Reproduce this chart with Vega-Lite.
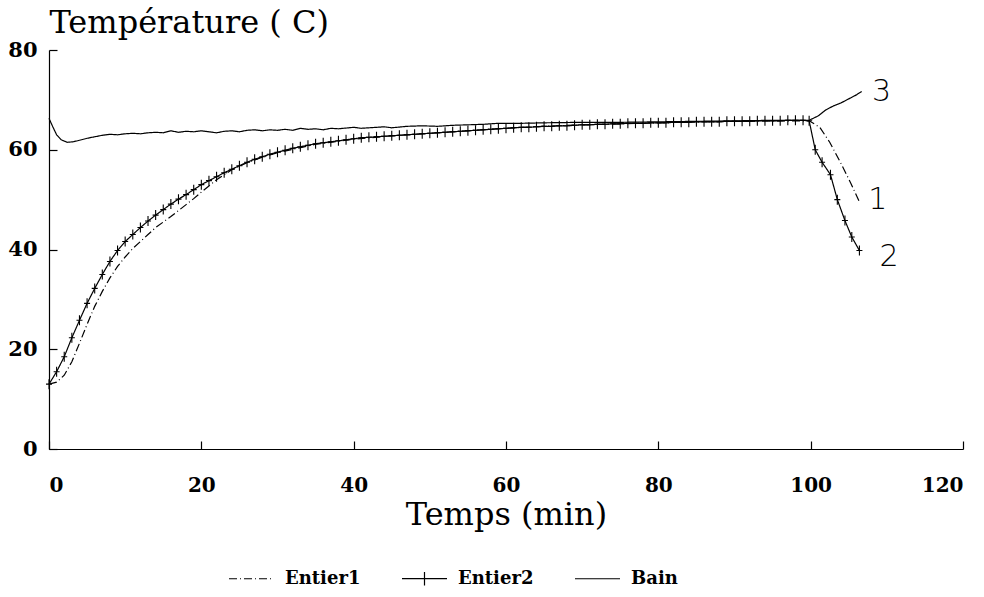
{
  "$schema": "https://vega.github.io/schema/vega-lite/v6.json",
  "autosize": "none",
  "padding": {"left": 49, "top": 50, "right": 21, "bottom": 148},
  "width": 914,
  "height": 399,
  "background": "white",
  "config": {
    "view": {"stroke": null},
    "axis": {"grid": false, "domainColor": "black", "tickColor": "black", "labelColor": "black", "titleColor": "black", "domainWidth": 1.2, "tickWidth": 1.2},
    "legend": {"symbolStrokeColor": "black", "symbolStrokeWidth": 1.2}
  },
  "datasets": {
    "curves": [
      {"series": "Bain", "t": 0, "temp": 66.3}, {"series": "Bain", "t": 0.5, "temp": 64.6}, {"series": "Bain", "t": 1, "temp": 63}, {"series": "Bain", "t": 1.6, "temp": 62}, {"series": "Bain", "t": 2.4, "temp": 61.5}, {"series": "Bain", "t": 3.2, "temp": 61.6}, {"series": "Bain", "t": 4, "temp": 61.9}, {"series": "Bain", "t": 5, "temp": 62.3}, {"series": "Bain", "t": 6, "temp": 62.6}, {"series": "Bain", "t": 7, "temp": 62.9}, {"series": "Bain", "t": 8, "temp": 63.1}, {"series": "Bain", "t": 9, "temp": 63}, {"series": "Bain", "t": 10, "temp": 63.2}, {"series": "Bain", "t": 11, "temp": 63.3}, {"series": "Bain", "t": 12, "temp": 63.2}, {"series": "Bain", "t": 13, "temp": 63.4}, {"series": "Bain", "t": 14, "temp": 63.5}, {"series": "Bain", "t": 15, "temp": 63.4}, {"series": "Bain", "t": 16, "temp": 63.8}, {"series": "Bain", "t": 17, "temp": 63.5}, {"series": "Bain", "t": 18, "temp": 63.7}, {"series": "Bain", "t": 19, "temp": 63.6}, {"series": "Bain", "t": 20, "temp": 63.8}, {"series": "Bain", "t": 21, "temp": 63.6}, {"series": "Bain", "t": 22, "temp": 63.4}, {"series": "Bain", "t": 23, "temp": 63.7}, {"series": "Bain", "t": 24, "temp": 63.8}, {"series": "Bain", "t": 25, "temp": 63.6}, {"series": "Bain", "t": 26, "temp": 63.9}, {"series": "Bain", "t": 27, "temp": 64}, {"series": "Bain", "t": 28, "temp": 63.8}, {"series": "Bain", "t": 29, "temp": 64}, {"series": "Bain", "t": 30, "temp": 63.9}, {"series": "Bain", "t": 31, "temp": 64.1}, {"series": "Bain", "t": 32, "temp": 63.9}, {"series": "Bain", "t": 33, "temp": 64.3}, {"series": "Bain", "t": 34, "temp": 64.1}, {"series": "Bain", "t": 35, "temp": 64.2}, {"series": "Bain", "t": 36, "temp": 64}, {"series": "Bain", "t": 37, "temp": 64.3}, {"series": "Bain", "t": 38, "temp": 64.2}, {"series": "Bain", "t": 40, "temp": 64.5}, {"series": "Bain", "t": 41, "temp": 64.3}, {"series": "Bain", "t": 42, "temp": 64.4}, {"series": "Bain", "t": 44, "temp": 64.6}, {"series": "Bain", "t": 45, "temp": 64.4}, {"series": "Bain", "t": 47, "temp": 64.7}, {"series": "Bain", "t": 49, "temp": 64.8}, {"series": "Bain", "t": 51, "temp": 64.7}, {"series": "Bain", "t": 53, "temp": 64.9}, {"series": "Bain", "t": 55, "temp": 65}, {"series": "Bain", "t": 57, "temp": 65.1}, {"series": "Bain", "t": 59, "temp": 65.3}, {"series": "Bain", "t": 62, "temp": 65.3}, {"series": "Bain", "t": 65, "temp": 65.4}, {"series": "Bain", "t": 70, "temp": 65.5}, {"series": "Bain", "t": 75, "temp": 65.5}, {"series": "Bain", "t": 80, "temp": 65.6}, {"series": "Bain", "t": 85, "temp": 65.7}, {"series": "Bain", "t": 90, "temp": 65.8}, {"series": "Bain", "t": 95, "temp": 65.9}, {"series": "Bain", "t": 99.8, "temp": 65.9}, {"series": "Bain", "t": 101, "temp": 66.8}, {"series": "Bain", "t": 102, "temp": 68}, {"series": "Bain", "t": 103, "temp": 68.8}, {"series": "Bain", "t": 104, "temp": 69.4}, {"series": "Bain", "t": 105, "temp": 70.2}, {"series": "Bain", "t": 106, "temp": 71}, {"series": "Bain", "t": 106.7, "temp": 71.7},
      {"series": "Entier1", "t": 0, "temp": 13}, {"series": "Entier1", "t": 1, "temp": 13.4}, {"series": "Entier1", "t": 2, "temp": 14.8}, {"series": "Entier1", "t": 3, "temp": 17.5}, {"series": "Entier1", "t": 4, "temp": 21.2}, {"series": "Entier1", "t": 5, "temp": 25}, {"series": "Entier1", "t": 6, "temp": 28.6}, {"series": "Entier1", "t": 7, "temp": 31.6}, {"series": "Entier1", "t": 8, "temp": 34.3}, {"series": "Entier1", "t": 9, "temp": 36.6}, {"series": "Entier1", "t": 10, "temp": 38.5}, {"series": "Entier1", "t": 11, "temp": 40.2}, {"series": "Entier1", "t": 12, "temp": 41.6}, {"series": "Entier1", "t": 13, "temp": 43}, {"series": "Entier1", "t": 14, "temp": 44.4}, {"series": "Entier1", "t": 15, "temp": 45.5}, {"series": "Entier1", "t": 16, "temp": 46.6}, {"series": "Entier1", "t": 17, "temp": 47.8}, {"series": "Entier1", "t": 18, "temp": 49}, {"series": "Entier1", "t": 19, "temp": 50.2}, {"series": "Entier1", "t": 20, "temp": 51.5}, {"series": "Entier1", "t": 22, "temp": 54}, {"series": "Entier1", "t": 24, "temp": 56}, {"series": "Entier1", "t": 26, "temp": 57.4}, {"series": "Entier1", "t": 28, "temp": 58.5}, {"series": "Entier1", "t": 30, "temp": 59.4}, {"series": "Entier1", "t": 35, "temp": 61.1}, {"series": "Entier1", "t": 40, "temp": 62.1}, {"series": "Entier1", "t": 45, "temp": 62.8}, {"series": "Entier1", "t": 50, "temp": 63.3}, {"series": "Entier1", "t": 55, "temp": 63.8}, {"series": "Entier1", "t": 60, "temp": 64.3}, {"series": "Entier1", "t": 65, "temp": 64.7}, {"series": "Entier1", "t": 70, "temp": 65}, {"series": "Entier1", "t": 75, "temp": 65.2}, {"series": "Entier1", "t": 80, "temp": 65.4}, {"series": "Entier1", "t": 85, "temp": 65.6}, {"series": "Entier1", "t": 90, "temp": 65.7}, {"series": "Entier1", "t": 95, "temp": 65.8}, {"series": "Entier1", "t": 99.8, "temp": 65.8}, {"series": "Entier1", "t": 101.2, "temp": 64.5}, {"series": "Entier1", "t": 102.5, "temp": 61.5}, {"series": "Entier1", "t": 104, "temp": 57.2}, {"series": "Entier1", "t": 105.3, "temp": 53.2}, {"series": "Entier1", "t": 106.5, "temp": 49.2},
      {"series": "Entier2", "t": 0, "temp": 13}, {"series": "Entier2", "t": 1, "temp": 15.5}, {"series": "Entier2", "t": 2, "temp": 18.5}, {"series": "Entier2", "t": 3, "temp": 22.3}, {"series": "Entier2", "t": 4, "temp": 25.8}, {"series": "Entier2", "t": 5, "temp": 29.2}, {"series": "Entier2", "t": 6, "temp": 32.2}, {"series": "Entier2", "t": 7, "temp": 35}, {"series": "Entier2", "t": 8, "temp": 37.6}, {"series": "Entier2", "t": 9, "temp": 39.8}, {"series": "Entier2", "t": 10, "temp": 41.6}, {"series": "Entier2", "t": 11, "temp": 43}, {"series": "Entier2", "t": 12, "temp": 44.4}, {"series": "Entier2", "t": 13, "temp": 45.7}, {"series": "Entier2", "t": 14, "temp": 46.9}, {"series": "Entier2", "t": 15, "temp": 48}, {"series": "Entier2", "t": 16, "temp": 49.1}, {"series": "Entier2", "t": 17, "temp": 50.1}, {"series": "Entier2", "t": 18, "temp": 51}, {"series": "Entier2", "t": 19, "temp": 52}, {"series": "Entier2", "t": 20, "temp": 53}, {"series": "Entier2", "t": 21, "temp": 53.8}, {"series": "Entier2", "t": 22, "temp": 54.6}, {"series": "Entier2", "t": 23, "temp": 55.4}, {"series": "Entier2", "t": 24, "temp": 56.1}, {"series": "Entier2", "t": 25, "temp": 56.8}, {"series": "Entier2", "t": 26, "temp": 57.5}, {"series": "Entier2", "t": 27, "temp": 58.1}, {"series": "Entier2", "t": 28, "temp": 58.6}, {"series": "Entier2", "t": 29, "temp": 59.1}, {"series": "Entier2", "t": 30, "temp": 59.5}, {"series": "Entier2", "t": 31, "temp": 59.9}, {"series": "Entier2", "t": 32, "temp": 60.3}, {"series": "Entier2", "t": 33, "temp": 60.6}, {"series": "Entier2", "t": 34, "temp": 60.9}, {"series": "Entier2", "t": 35, "temp": 61.2}, {"series": "Entier2", "t": 36, "temp": 61.4}, {"series": "Entier2", "t": 37, "temp": 61.6}, {"series": "Entier2", "t": 38, "temp": 61.8}, {"series": "Entier2", "t": 39, "temp": 62}, {"series": "Entier2", "t": 40, "temp": 62.2}, {"series": "Entier2", "t": 41, "temp": 62.4}, {"series": "Entier2", "t": 42, "temp": 62.5}, {"series": "Entier2", "t": 43, "temp": 62.6}, {"series": "Entier2", "t": 44, "temp": 62.7}, {"series": "Entier2", "t": 45, "temp": 62.8}, {"series": "Entier2", "t": 46, "temp": 62.9}, {"series": "Entier2", "t": 47, "temp": 63}, {"series": "Entier2", "t": 48, "temp": 63.1}, {"series": "Entier2", "t": 49, "temp": 63.2}, {"series": "Entier2", "t": 50, "temp": 63.3}, {"series": "Entier2", "t": 51, "temp": 63.4}, {"series": "Entier2", "t": 52, "temp": 63.5}, {"series": "Entier2", "t": 53, "temp": 63.6}, {"series": "Entier2", "t": 54, "temp": 63.7}, {"series": "Entier2", "t": 55, "temp": 63.8}, {"series": "Entier2", "t": 56, "temp": 63.9}, {"series": "Entier2", "t": 57, "temp": 64}, {"series": "Entier2", "t": 58, "temp": 64.1}, {"series": "Entier2", "t": 59, "temp": 64.2}, {"series": "Entier2", "t": 60, "temp": 64.3}, {"series": "Entier2", "t": 61, "temp": 64.4}, {"series": "Entier2", "t": 62, "temp": 64.5}, {"series": "Entier2", "t": 63, "temp": 64.5}, {"series": "Entier2", "t": 64, "temp": 64.6}, {"series": "Entier2", "t": 65, "temp": 64.7}, {"series": "Entier2", "t": 66, "temp": 64.7}, {"series": "Entier2", "t": 67, "temp": 64.8}, {"series": "Entier2", "t": 68, "temp": 64.8}, {"series": "Entier2", "t": 69, "temp": 64.9}, {"series": "Entier2", "t": 70, "temp": 65}, {"series": "Entier2", "t": 71, "temp": 65}, {"series": "Entier2", "t": 72, "temp": 65.1}, {"series": "Entier2", "t": 73, "temp": 65.1}, {"series": "Entier2", "t": 74, "temp": 65.2}, {"series": "Entier2", "t": 75, "temp": 65.2}, {"series": "Entier2", "t": 76, "temp": 65.3}, {"series": "Entier2", "t": 77, "temp": 65.3}, {"series": "Entier2", "t": 78, "temp": 65.3}, {"series": "Entier2", "t": 79, "temp": 65.4}, {"series": "Entier2", "t": 80, "temp": 65.4}, {"series": "Entier2", "t": 81, "temp": 65.4}, {"series": "Entier2", "t": 82, "temp": 65.5}, {"series": "Entier2", "t": 83, "temp": 65.5}, {"series": "Entier2", "t": 84, "temp": 65.5}, {"series": "Entier2", "t": 85, "temp": 65.6}, {"series": "Entier2", "t": 86, "temp": 65.6}, {"series": "Entier2", "t": 87, "temp": 65.6}, {"series": "Entier2", "t": 88, "temp": 65.6}, {"series": "Entier2", "t": 89, "temp": 65.7}, {"series": "Entier2", "t": 90, "temp": 65.7}, {"series": "Entier2", "t": 91, "temp": 65.7}, {"series": "Entier2", "t": 92, "temp": 65.7}, {"series": "Entier2", "t": 93, "temp": 65.8}, {"series": "Entier2", "t": 94, "temp": 65.8}, {"series": "Entier2", "t": 95, "temp": 65.8}, {"series": "Entier2", "t": 96, "temp": 65.8}, {"series": "Entier2", "t": 97, "temp": 65.9}, {"series": "Entier2", "t": 98, "temp": 65.9}, {"series": "Entier2", "t": 99, "temp": 65.9}, {"series": "Entier2", "t": 99.8, "temp": 65.8}, {"series": "Entier2", "t": 100.6, "temp": 60}, {"series": "Entier2", "t": 101.5, "temp": 57.5}, {"series": "Entier2", "t": 102.6, "temp": 55}, {"series": "Entier2", "t": 103.5, "temp": 50}, {"series": "Entier2", "t": 104.5, "temp": 45.8}, {"series": "Entier2", "t": 105.4, "temp": 42.5}, {"series": "Entier2", "t": 106.4, "temp": 39.8}
    ],
    "notes": [
      {"label": "3", "t": 109.3, "temp": 71.6},
      {"label": "1", "t": 108.8, "temp": 50},
      {"label": "2", "t": 110.3, "temp": 38.4}
    ]
  },
  "layer": [
    {
      "data": {"name": "curves"},
      "mark": {"type": "line", "color": "black", "strokeWidth": 1.2, "interpolate": "linear"},
      "encoding": {
        "x": {"field": "t", "type": "quantitative", "scale": {"domain": [0, 120], "nice": false},
          "axis": {"title": "Temps (min)", "values": [0, 20, 40, 60, 80, 100, 120], "tickSize": -8, "labelPadding": 34, "labelFont": "DejaVu Serif", "labelFontWeight": "bold", "labelFontSize": 20, "titleFont": "DejaVu Serif", "titleFontWeight": "normal", "titleFontSize": 32, "titlePadding": 4}},
        "y": {"field": "temp", "type": "quantitative", "scale": {"domain": [0, 80], "nice": false},
          "axis": {"title": "Température ( C)", "values": [0, 20, 40, 60, 80], "tickSize": -8, "labelPadding": 20, "labelFont": "DejaVu Serif", "labelFontWeight": "bold", "labelFontSize": 21, "titleFont": "DejaVu Serif", "titleFontWeight": "normal", "titleFontSize": 32, "titleAngle": 0, "titleAlign": "left", "titleBaseline": "alphabetic", "titleX": 0, "titleY": -18}},
        "strokeDash": {"field": "series", "type": "nominal",
          "scale": {"domain": ["Entier1", "Entier2", "Bain"], "range": [[8, 3, 1, 3], [1, 0], [1, 0]]},
          "legend": {"title": null, "orient": "none", "direction": "horizontal", "legendX": 179, "legendY": 505, "symbolType": "stroke", "symbolSize": 2025, "labelFont": "DejaVu Serif", "labelFontWeight": "bold", "labelFontSize": 18, "labelColor": "black", "labelOffset": 10, "columnPadding": 38,
            "encode": {"symbols": {"update": {"shape": {"signal": "datum.value === 'Entier2' ? 'M-1,0H1M0,-0.3V0.3' : 'M-1,0H1'"}, "stroke": {"value": "black"}}}}}
        },
        "detail": {"field": "series"}
      }
    },
    {
      "data": {"name": "curves"},
      "transform": [{"filter": "datum.series === 'Entier2'"}],
      "mark": {"type": "point", "shape": "M-0.6,0H0.6M0,-1V1", "size": 100, "filled": false, "color": "black", "strokeWidth": 1.1, "opacity": 1},
      "encoding": {
        "x": {"field": "t", "type": "quantitative"},
        "y": {"field": "temp", "type": "quantitative"}
      }
    },
    {
      "data": {"name": "notes"},
      "mark": {"type": "text", "font": "DejaVu Sans", "fontSize": 30, "fontWeight": 200, "color": "black", "align": "center", "baseline": "middle"},
      "encoding": {
        "x": {"field": "t", "type": "quantitative"},
        "y": {"field": "temp", "type": "quantitative"},
        "text": {"field": "label"}
      }
    }
  ]
}
